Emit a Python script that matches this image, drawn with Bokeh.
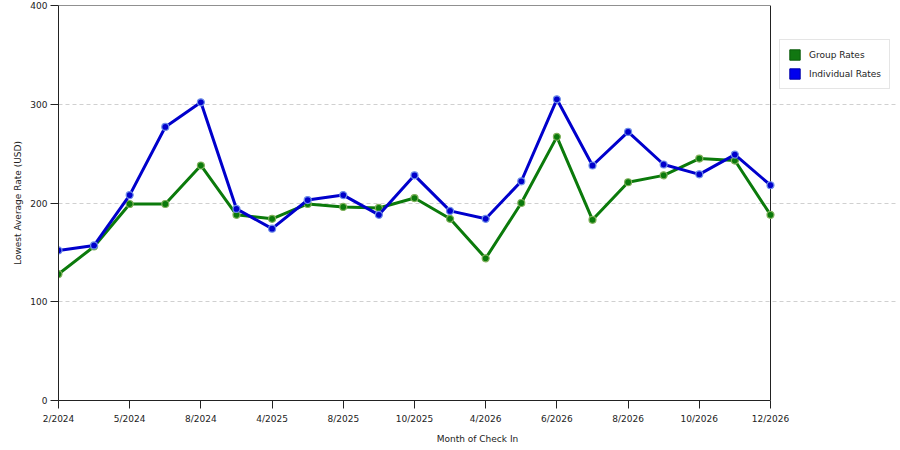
from bokeh.plotting import figure
from bokeh.models import Legend, LegendItem, Range1d, FixedTicker
from bokeh.embed import file_html
from bokeh.resources import INLINE

months = ["2/2024", "3/2024", "5/2024", "6/2024", "8/2024", "9/2024", "4/2025",
          "6/2025", "8/2025", "9/2025", "10/2025", "11/2025", "4/2026", "5/2026",
          "6/2026", "7/2026", "8/2026", "9/2026", "10/2026", "11/2026", "12/2026"]
group_rates = [128, 156, 199, 199, 238, 188, 184, 199, 196, 195, 205, 184,
               144, 200, 267, 183, 221, 228, 245, 243, 188]
individual_rates = [152, 157, 208, 277, 302, 194, 174, 203, 208, 188, 228, 192,
                    184, 222, 305, 238, 272, 239, 229, 249, 218]
y_ticks = [0, 100, 200, 300, 400]

x = list(range(len(months)))
labelled = x[::2]
last = len(months) - 1

# the frame runs on past the last month so the legend can sit inside it
W, H = 896, 446
left, top, bottom = 58, 5, 46
data_w = 712  # pixels between first and last month
frame_w = W - left
x_end = last * frame_w / data_w

p = figure(width=W, height=H, output_backend="svg", toolbar_location=None,
           x_range=Range1d(0, x_end), y_range=Range1d(0, 400),
           min_border_left=left, min_border_right=0, min_border_top=top,
           min_border_bottom=bottom)
p.outline_line_color = None
p.background_fill_color = "white"
p.border_fill_color = "white"

p.xgrid.visible = False
p.ygrid.grid_line_color = "#d0d0d0"
p.ygrid.grid_line_dash = "4 3"
p.ygrid.ticker = FixedTicker(ticks=y_ticks[1:-1])
p.ygrid.bounds = (0, last)

p.xaxis.ticker = FixedTicker(ticks=labelled)
p.xaxis.major_label_overrides = {i: months[i] for i in labelled}
p.xaxis.bounds = (0, last)
p.yaxis.ticker = FixedTicker(ticks=y_ticks)
for ax in (p.xaxis, p.yaxis):
    ax.axis_line_color = "#222222"
    ax.major_tick_line_color = "#222222"
    ax.minor_tick_line_color = None
    ax.major_tick_in = 0
    ax.major_tick_out = 8
    ax.major_label_standoff = 3
    ax.major_label_text_font = "DejaVu Sans"
    ax.major_label_text_font_size = "9px"
    ax.major_label_text_color = "#222222"
    ax.axis_label_text_font = "DejaVu Sans"
    ax.axis_label_text_font_size = "9px"
    ax.axis_label_text_font_style = "normal"
    ax.axis_label_text_color = "#222222"
p.xaxis.major_label_standoff = 5
p.xaxis.axis_label = "Month of Check In"
p.yaxis.axis_label = "Lowest Average Rate (USD)"
p.xaxis.axis_label_standoff = 7
p.yaxis.axis_label_standoff = 4

# top and right edges of the plot box
p.line([0, last, last], [400, 400, 0], line_color="#222222", line_width=1)

green = "#0b7a0b"
blue = "#0000cc"

# zero-size quads under the markers, only used as legend swatches
g_sw = p.quad(left=x, right=x, top=group_rates, bottom=group_rates,
              fill_color="#117711", line_color="#0c5c0c")
b_sw = p.quad(left=x, right=x, top=individual_rates, bottom=individual_rates,
              fill_color="#0000ee", line_color="#0000aa")

p.line(x, group_rates, line_color=green, line_width=3)
p.scatter(x, group_rates, size=7, fill_color=green, line_color="#7fb05a",
          line_width=1.2)
p.line(x, individual_rates, line_color=blue, line_width=3)
p.scatter(x, individual_rates, size=7, fill_color=blue, line_color="#6f8fe8",
          line_width=1.2)

legend = Legend(items=[LegendItem(label="Group Rates", renderers=[g_sw]),
                       LegendItem(label="Individual Rates", renderers=[b_sw])],
                location=(721, 311), orientation="vertical")
legend.margin = 0
legend.label_text_font = "DejaVu Sans"
legend.label_text_font_size = "9px"
legend.label_text_color = "#222222"
legend.glyph_width = 13
legend.glyph_height = 13
legend.label_height = 13
legend.spacing = 6
legend.padding = 8
legend.label_standoff = 8
legend.border_line_color = "#cccccc"
legend.background_fill_color = "white"
legend.background_fill_alpha = 1
p.add_layout(legend, "center")

open("out.html", "w").write(file_html(p, INLINE))
